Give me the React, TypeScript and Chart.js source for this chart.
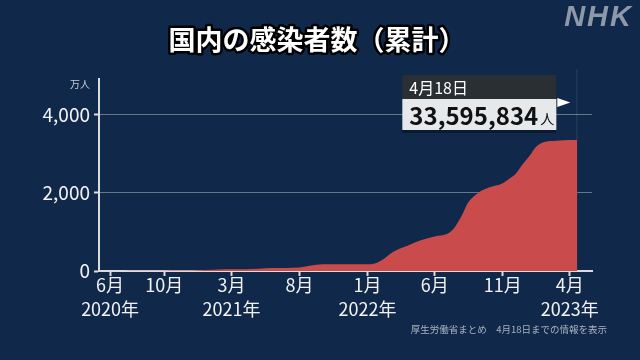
import React, { useEffect, useRef } from "react";
import { Chart, registerables } from "chart.js";

Chart.register(...registerables);

// Cumulative infections in Japan (unit: 万人)
const dates = [
  "2020-05-07", "2020-06-01", "2020-07-01", "2020-08-01", "2020-09-01", "2020-10-01",
  "2020-11-01", "2020-12-01", "2021-01-01", "2021-02-01", "2021-03-01", "2021-04-01",
  "2021-05-01", "2021-06-01", "2021-07-01", "2021-08-01", "2021-08-15", "2021-09-01",
  "2021-09-15", "2021-10-01", "2021-11-01", "2021-12-01", "2022-01-01", "2022-01-15",
  "2022-02-01", "2022-03-01", "2022-04-01", "2022-05-01", "2022-06-01", "2022-07-01",
  "2022-07-15", "2022-08-01", "2022-08-15", "2022-09-01", "2022-09-15", "2022-10-01",
  "2022-11-01", "2022-11-15", "2022-12-01", "2022-12-15", "2023-01-01", "2023-01-15",
  "2023-02-01", "2023-03-01", "2023-04-01", "2023-04-18",
];
const values = [
  1.5, 1.7, 1.9, 3.5, 6.8, 8.3,
  10.1, 14.8, 23.5, 39.2, 43.3, 47.5,
  59.6, 74.9, 79.8, 92.3, 115, 147.7,
  165, 170.5, 172.4, 172.7, 173.4, 185,
  272, 502, 648, 785, 885, 960,
  1100, 1420, 1750, 1950, 2060, 2140,
  2250, 2360, 2500, 2720, 2960, 3180,
  3300, 3340, 3355, 3360,
];

const tickDates = [
  "2020-06-01", "2020-10-01", "2021-03-01", "2021-08-01",
  "2022-01-01", "2022-06-01", "2022-11-01", "2023-04-01",
];
const monthLabels = ["6月", "10月", "3月", "8月", "1月", "6月", "11月", "4月"];
const yearLabels = ["2020年", "", "2021年", "", "2022年", "", "", "2023年"];
const yTicks = [0, 2000, 4000];

const xStart = "2020-05-07";
const xEnd = "2023-05-21";
const yMax = 4920;

const titleText = "国内の感染者数（累計）";
const unitText = "万人";
const calloutDate = "4月18日";
const calloutValue = "33,595,834";
const calloutUnit = "人";
const noteText = "厚生労働省まとめ　4月18日までの情報を表示";
const logoText = "NHK";

const toDay = (s: string) => {
  const [y, m, d] = s.split("-").map(Number);
  return Date.UTC(y, m - 1, d) / 86400000;
};

const JP = '"Noto Sans CJK JP", "Noto Sans", sans-serif';

const overlay = {
  id: "overlay",
  afterDraw(chart: any) {
    const { ctx, chartArea, scales } = chart;
    const xs = scales.x;
    const ys = scales.y;
    ctx.save();

    // title
    ctx.font = `bold 27px ${JP}`;
    ctx.textAlign = "center";
    ctx.textBaseline = "middle";
    ctx.lineJoin = "round";
    ctx.lineWidth = 5;
    ctx.strokeStyle = "#000";
    ctx.strokeText(titleText, 317, 40);
    ctx.fillStyle = "#fff";
    ctx.fillText(titleText, 317, 40);

    // logo
    ctx.font = `italic 900 29px "Liberation Sans", Arial, sans-serif`;
    ctx.textAlign = "right";
    ctx.fillStyle = "#8d98a9";
    (ctx as any).letterSpacing = "2px";
    ctx.fillText(logoText, 633, 18);
    (ctx as any).letterSpacing = "0px";

    // unit
    ctx.font = `10px ${JP}`;
    ctx.textAlign = "right";
    ctx.fillStyle = "#c9ced6";
    ctx.fillText(unitText, 90, 84);

    // note
    ctx.font = `9.5px ${JP}`;
    ctx.fillStyle = "#a9b2bf";
    ctx.fillText(noteText, 607, 329);

    // marker line at the last point
    const n = dates.length - 1;
    const px = xs.getPixelForValue(toDay(dates[n]));
    const py = ys.getPixelForValue(values[n]);
    ctx.strokeStyle = "rgba(255,255,255,0.12)";
    ctx.lineWidth = 1;
    ctx.beginPath();
    ctx.moveTo(px - 0.5, chartArea.top - 10);
    ctx.lineTo(px - 0.5, py);
    ctx.stroke();

    // callout
    const right = px - 21;
    const left = right - 154;
    const top = chartArea.top - 4;
    const headH = 24;
    const bodyH = 31;
    ctx.fillStyle = "rgba(0,0,0,0.35)";
    ctx.fillRect(left, top + headH + bodyH, right - left, 3);
    ctx.fillStyle = "#2a2f34";
    ctx.fillRect(left, top, right - left, headH);
    ctx.fillStyle = "#e6e9ec";
    ctx.fillRect(left, top + headH, right - left, bodyH);

    ctx.textAlign = "left";
    ctx.fillStyle = "#fff";
    ctx.font = `16px ${JP}`;
    ctx.fillText(calloutDate, left + 7, top + headH / 2 + 1);

    ctx.fillStyle = "#111";
    ctx.font = `bold 24px ${JP}`;
    ctx.fillText(calloutValue, left + 7, top + headH + bodyH / 2 + 1);
    const w = ctx.measureText(calloutValue).width;
    ctx.font = `14px ${JP}`;
    ctx.fillText(calloutUnit, left + 9 + w, top + headH + bodyH / 2 + 4);

    // triangle
    ctx.fillStyle = "#fff";
    ctx.beginPath();
    ctx.moveTo(right + 1, top + headH - 1);
    ctx.lineTo(right + 14, top + headH + 3.5);
    ctx.lineTo(right + 1, top + headH + 8);
    ctx.closePath();
    ctx.fill();

    ctx.restore();
  },
};

export default function App() {
  const ref = useRef<HTMLCanvasElement>(null);
  useEffect(() => {
    if (!ref.current) return;
    const tickDays = tickDates.map(toDay);
    const chart = new Chart(ref.current, {
      type: "line",
      data: {
        datasets: [
          {
            data: dates.map((d, i) => ({ x: toDay(d), y: values[i] })),
            backgroundColor: "#c94b4b",
            borderWidth: 0,
            pointRadius: 0,
            fill: "origin",
            cubicInterpolationMode: "monotone",
          },
        ],
      },
      options: {
        responsive: false,
        animation: false,
        layout: { padding: { left: 0, top: 79, right: 48, bottom: 0 } },
        plugins: { legend: { display: false }, tooltip: { enabled: false } },
        scales: {
          x: {
            type: "linear",
            min: toDay(xStart),
            max: toDay(xEnd),
            afterBuildTicks: (s: any) => {
              s.ticks = tickDays.map((v) => ({ value: v }));
            },
            afterFit: (s: any) => {
              s.height = 89;
            },
            ticks: {
              autoSkip: false,
              maxRotation: 0,
              color: "#f2f2f2",
              font: { family: JP, size: 18, lineHeight: 1.35 },
              padding: -3,
              callback: (_v: any, i: number) => [monthLabels[i], yearLabels[i]],
            },
            grid: {
              drawOnChartArea: false,
              drawTicks: true,
              tickLength: 5,
              tickColor: "#dcdcdc",
              tickWidth: 2,
            },
            border: { display: true, color: "#dcdcdc", width: 2 },
          },
          y: {
            min: 0,
            max: yMax,
            afterBuildTicks: (s: any) => {
              s.ticks = yTicks.map((v) => ({ value: v }));
            },
            afterFit: (s: any) => {
              s.width = 99;
            },
            ticks: {
              color: "#f2f2f2",
              font: { family: JP, size: 19 },
              padding: 4,
              callback: (v: any) => Number(v).toLocaleString("en-US"),
            },
            grid: {
              color: (c: any) => (c.tick && c.tick.value === 0 ? "rgba(0,0,0,0)" : "rgba(160,170,185,0.6)"),
              lineWidth: 1,
              tickLength: 5,
              tickColor: "#dcdcdc",
              tickWidth: 2,
            },
            border: { display: true, color: "#dcdcdc", width: 2 },
          },
        },
      },
      plugins: [overlay],
    });
    return () => chart.destroy();
  }, []);
  return (
    <div
      style={{
        position: "fixed",
        left: 0,
        top: 0,
        width: 640,
        height: 360,
        background: "#10284a",
      }}
    >
      <canvas ref={ref} width={640} height={360} style={{ display: "block" }} />
    </div>
  );
}
